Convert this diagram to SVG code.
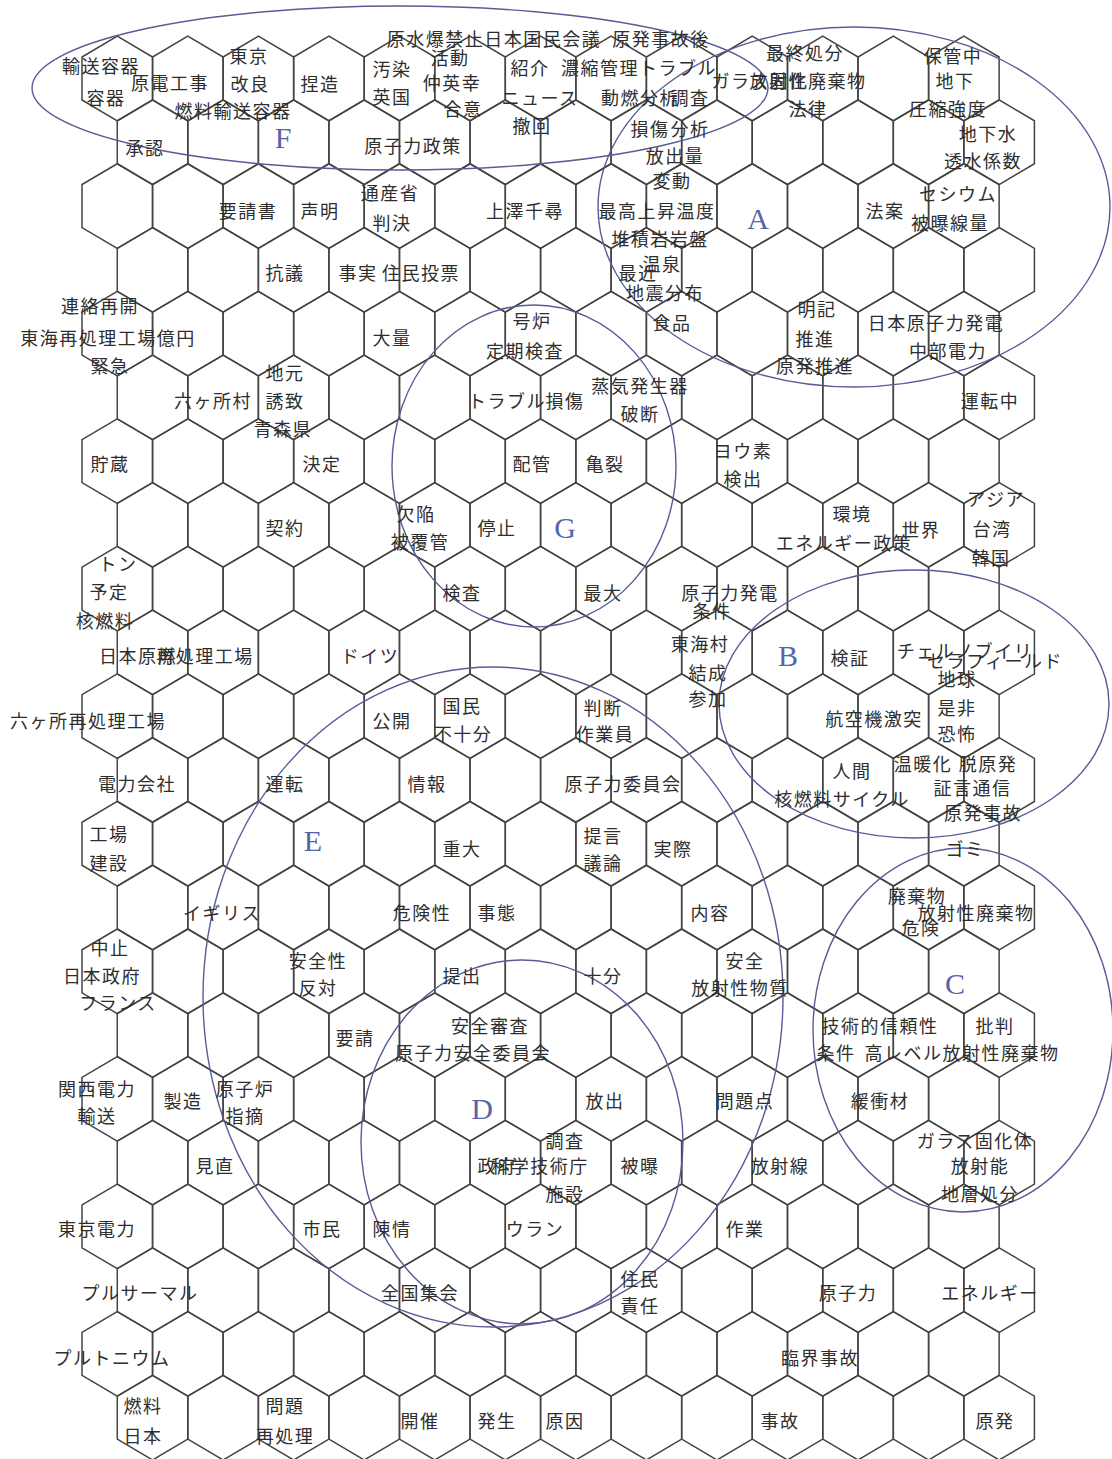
<svg xmlns="http://www.w3.org/2000/svg" xmlns:xlink="http://www.w3.org/1999/xlink" width="1112" height="1459" viewBox="0 0 1112 1459">
<style>
.hx{fill:none;stroke:#444;stroke-width:1.5;stroke-linejoin:miter}
.t{font-family:"Noto Sans CJK JP","Noto Sans",sans-serif;font-size:18px;letter-spacing:1.5px;fill:#2e2e2e;text-anchor:middle;dominant-baseline:central}
.cl{font-family:"Liberation Serif",serif;font-size:30px;fill:#5565a8;text-anchor:middle;dominant-baseline:central}
.el{fill:none;stroke:#5a5a98;stroke-width:1.4}
</style>
<defs>
<path id="h" d="M0,-42.3 L35.27,-21.5 L35.27,21.5 L0,42.3 L-35.27,21.5 L-35.27,-21.5 Z"/>
<g id="row">
<use href="#h" class="hx" x="0"/><use href="#h" class="hx" x="70.55"/><use href="#h" class="hx" x="141.1"/><use href="#h" class="hx" x="211.65"/><use href="#h" class="hx" x="282.2"/><use href="#h" class="hx" x="352.75"/><use href="#h" class="hx" x="423.3"/><use href="#h" class="hx" x="493.85"/><use href="#h" class="hx" x="564.4"/><use href="#h" class="hx" x="634.95"/><use href="#h" class="hx" x="705.5"/><use href="#h" class="hx" x="776.05"/><use href="#h" class="hx" x="846.6"/>
</g>
</defs>
<rect width="1112" height="1459" fill="#fff"/>
<g id="hexgrid">
<use href="#row" x="117.27" y="78.5"/>
<use href="#row" x="152.55" y="142.27"/>
<use href="#row" x="117.27" y="206.04"/>
<use href="#row" x="152.55" y="269.81"/>
<use href="#row" x="117.27" y="333.58"/>
<use href="#row" x="152.55" y="397.35"/>
<use href="#row" x="117.27" y="461.12"/>
<use href="#row" x="152.55" y="524.89"/>
<use href="#row" x="117.27" y="588.66"/>
<use href="#row" x="152.55" y="652.43"/>
<use href="#row" x="117.27" y="716.2"/>
<use href="#row" x="152.55" y="779.97"/>
<use href="#row" x="117.27" y="843.74"/>
<use href="#row" x="152.55" y="907.51"/>
<use href="#row" x="117.27" y="971.28"/>
<use href="#row" x="152.55" y="1035.05"/>
<use href="#row" x="117.27" y="1098.82"/>
<use href="#row" x="152.55" y="1162.59"/>
<use href="#row" x="117.27" y="1226.36"/>
<use href="#row" x="152.55" y="1290.13"/>
<use href="#row" x="117.27" y="1353.9"/>
<use href="#row" x="152.55" y="1417.67"/>
</g>
<g id="clusters">
<ellipse class="el" cx="400" cy="88" rx="368" ry="82"/>
<ellipse class="el" cx="854" cy="207" rx="256" ry="180"/>
<ellipse class="el" cx="534" cy="466" rx="142" ry="161"/>
<ellipse class="el" cx="493" cy="997" rx="290" ry="330"/>
<ellipse class="el" cx="522" cy="1142" rx="161" ry="182"/>
<ellipse class="el" cx="914" cy="704" rx="195" ry="134"/>
<ellipse class="el" cx="963" cy="1030" rx="150" ry="182"/>
<text class="cl" x="283" y="137">F</text>
<text class="cl" x="758" y="218">A</text>
<text class="cl" x="565" y="527">G</text>
<text class="cl" x="788" y="655">B</text>
<text class="cl" x="313" y="840">E</text>
<text class="cl" x="955" y="983">C</text>
<text class="cl" x="482" y="1108">D</text>
</g>
<g id="labels">
<text class="t" x="494" y="38">原水爆禁止日本国民会議</text>
<text class="t" x="661" y="38">原発事故後</text>
<text class="t" x="101" y="65">輸送容器</text>
<text class="t" x="106" y="97">容器</text>
<text class="t" x="170" y="82">原電工事</text>
<text class="t" x="249" y="55">東京</text>
<text class="t" x="250" y="83">改良</text>
<text class="t" x="233" y="110">燃料輸送容器</text>
<text class="t" x="320" y="83">捏造</text>
<text class="t" x="145" y="147">承認</text>
<text class="t" x="392" y="68">汚染</text>
<text class="t" x="392" y="96">英国</text>
<text class="t" x="450" y="57">活動</text>
<text class="t" x="452" y="82">仲英幸</text>
<text class="t" x="463" y="108">合意</text>
<text class="t" x="413" y="145">原子力政策</text>
<text class="t" x="530" y="67">紹介</text>
<text class="t" x="600" y="67">濃縮管理</text>
<text class="t" x="540" y="97">ニュース</text>
<text class="t" x="532" y="125">撤回</text>
<text class="t" x="640" y="97">動燃分析</text>
<text class="t" x="690" y="97">調査</text>
<text class="t" x="678" y="67">トラブル</text>
<text class="t" x="760" y="80">ガラス固化</text>
<text class="t" x="650" y="128">損傷</text>
<text class="t" x="690" y="128">分析</text>
<text class="t" x="675" y="155">放出量</text>
<text class="t" x="672" y="180">変動</text>
<text class="t" x="805" y="52">最終処分</text>
<text class="t" x="808" y="80">放射性廃棄物</text>
<text class="t" x="808" y="108">法律</text>
<text class="t" x="953" y="55">保管中</text>
<text class="t" x="955" y="80">地下</text>
<text class="t" x="948" y="108">圧縮強度</text>
<text class="t" x="988" y="133">地下水</text>
<text class="t" x="983" y="160">透水係数</text>
<text class="t" x="958" y="193">セシウム</text>
<text class="t" x="950" y="222">被曝線量</text>
<text class="t" x="885" y="210">法案</text>
<text class="t" x="248" y="210">要請書</text>
<text class="t" x="320" y="210">声明</text>
<text class="t" x="390" y="192">通産省</text>
<text class="t" x="392" y="222">判決</text>
<text class="t" x="525" y="210">上澤千尋</text>
<text class="t" x="657" y="210">最高上昇温度</text>
<text class="t" x="660" y="238">堆積岩岩盤</text>
<text class="t" x="285" y="272">抗議</text>
<text class="t" x="358" y="272">事実</text>
<text class="t" x="421" y="272">住民投票</text>
<text class="t" x="638" y="272">最近</text>
<text class="t" x="662" y="263">温泉</text>
<text class="t" x="665" y="292">地震分布</text>
<text class="t" x="672" y="322">食品</text>
<text class="t" x="100" y="305">連絡再開</text>
<text class="t" x="108" y="337">東海再処理工場億円</text>
<text class="t" x="110" y="365">緊急</text>
<text class="t" x="392" y="337">大量</text>
<text class="t" x="532" y="320">号炉</text>
<text class="t" x="525" y="350">定期検査</text>
<text class="t" x="817" y="308">明記</text>
<text class="t" x="815" y="338">推進</text>
<text class="t" x="815" y="365">原発推進</text>
<text class="t" x="936" y="322">日本原子力発電</text>
<text class="t" x="948" y="350">中部電力</text>
<text class="t" x="213" y="400">六ヶ所村</text>
<text class="t" x="285" y="372">地元</text>
<text class="t" x="285" y="400">誘致</text>
<text class="t" x="283" y="428">青森県</text>
<text class="t" x="507" y="400">トラブル</text>
<text class="t" x="565" y="400">損傷</text>
<text class="t" x="640" y="385">蒸気発生器</text>
<text class="t" x="640" y="413">破断</text>
<text class="t" x="990" y="400">運転中</text>
<text class="t" x="110" y="463">貯蔵</text>
<text class="t" x="322" y="463">決定</text>
<text class="t" x="532" y="463">配管</text>
<text class="t" x="605" y="463">亀裂</text>
<text class="t" x="743" y="450">ヨウ素</text>
<text class="t" x="743" y="478">検出</text>
<text class="t" x="285" y="527">契約</text>
<text class="t" x="416" y="513">欠陥</text>
<text class="t" x="420" y="541">被覆管</text>
<text class="t" x="497" y="527">停止</text>
<text class="t" x="852" y="513">環境</text>
<text class="t" x="844" y="542">エネルギー政策</text>
<text class="t" x="921" y="529">世界</text>
<text class="t" x="996" y="498">アジア</text>
<text class="t" x="992" y="528">台湾</text>
<text class="t" x="991" y="557">韓国</text>
<text class="t" x="118" y="563">トン</text>
<text class="t" x="109" y="591">予定</text>
<text class="t" x="105" y="620">核燃料</text>
<text class="t" x="462" y="592">検査</text>
<text class="t" x="603" y="592">最大</text>
<text class="t" x="730" y="592">原子力発電</text>
<text class="t" x="712" y="610">条件</text>
<text class="t" x="700" y="643">東海村</text>
<text class="t" x="708" y="672">結成</text>
<text class="t" x="708" y="698">参加</text>
<text class="t" x="138" y="655">日本原燃</text>
<text class="t" x="205" y="655">再処理工場</text>
<text class="t" x="370" y="655">ドイツ</text>
<text class="t" x="850" y="657">検証</text>
<text class="t" x="965" y="650">チェルノブイリ</text>
<text class="t" x="995" y="660">セラフィールド</text>
<text class="t" x="957" y="678">地球</text>
<text class="t" x="88" y="720">六ヶ所再処理工場</text>
<text class="t" x="392" y="720">公開</text>
<text class="t" x="462" y="705">国民</text>
<text class="t" x="463" y="733">不十分</text>
<text class="t" x="603" y="707">判断</text>
<text class="t" x="605" y="733">作業員</text>
<text class="t" x="874" y="718">航空機激突</text>
<text class="t" x="957" y="707">是非</text>
<text class="t" x="957" y="733">恐怖</text>
<text class="t" x="137" y="783">電力会社</text>
<text class="t" x="285" y="783">運転</text>
<text class="t" x="427" y="783">情報</text>
<text class="t" x="623" y="783">原子力委員会</text>
<text class="t" x="852" y="770">人間</text>
<text class="t" x="842" y="798">核燃料サイクル</text>
<text class="t" x="923" y="763">温暖化</text>
<text class="t" x="988" y="763">脱原発</text>
<text class="t" x="953" y="787">証言</text>
<text class="t" x="992" y="787">通信</text>
<text class="t" x="983" y="812">原発事故</text>
<text class="t" x="965" y="848">ゴミ</text>
<text class="t" x="109" y="833">工場</text>
<text class="t" x="109" y="862">建設</text>
<text class="t" x="462" y="848">重大</text>
<text class="t" x="603" y="835">提言</text>
<text class="t" x="603" y="862">議論</text>
<text class="t" x="673" y="848">実際</text>
<text class="t" x="222" y="912">イギリス</text>
<text class="t" x="422" y="912">危険性</text>
<text class="t" x="497" y="912">事態</text>
<text class="t" x="710" y="912">内容</text>
<text class="t" x="917" y="895">廃棄物</text>
<text class="t" x="921" y="927">危険</text>
<text class="t" x="976" y="912">放射性廃棄物</text>
<text class="t" x="110" y="947">中止</text>
<text class="t" x="102" y="975">日本政府</text>
<text class="t" x="118" y="1002">フランス</text>
<text class="t" x="318" y="960">安全性</text>
<text class="t" x="318" y="987">反対</text>
<text class="t" x="462" y="975">提出</text>
<text class="t" x="603" y="975">十分</text>
<text class="t" x="745" y="960">安全</text>
<text class="t" x="740" y="987">放射性物質</text>
<text class="t" x="355" y="1037">要請</text>
<text class="t" x="490" y="1025">安全審査</text>
<text class="t" x="473" y="1052">原子力安全委員会</text>
<text class="t" x="880" y="1025">技術的信頼性</text>
<text class="t" x="995" y="1025">批判</text>
<text class="t" x="836" y="1052">条件</text>
<text class="t" x="962" y="1052">高レベル放射性廃棄物</text>
<text class="t" x="97" y="1088">関西電力</text>
<text class="t" x="97" y="1115">輸送</text>
<text class="t" x="183" y="1100">製造</text>
<text class="t" x="245" y="1088">原子炉</text>
<text class="t" x="245" y="1115">指摘</text>
<text class="t" x="605" y="1100">放出</text>
<text class="t" x="745" y="1100">問題点</text>
<text class="t" x="880" y="1100">緩衝材</text>
<text class="t" x="215" y="1165">見直</text>
<text class="t" x="565" y="1140">調査</text>
<text class="t" x="497" y="1165">政府</text>
<text class="t" x="540" y="1165">科学技術庁</text>
<text class="t" x="565" y="1193">施設</text>
<text class="t" x="640" y="1165">被曝</text>
<text class="t" x="780" y="1165">放射線</text>
<text class="t" x="975" y="1140">ガラス固化体</text>
<text class="t" x="980" y="1165">放射能</text>
<text class="t" x="980" y="1193">地層処分</text>
<text class="t" x="97" y="1228">東京電力</text>
<text class="t" x="322" y="1228">市民</text>
<text class="t" x="392" y="1228">陳情</text>
<text class="t" x="535" y="1228">ウラン</text>
<text class="t" x="745" y="1228">作業</text>
<text class="t" x="140" y="1292">プルサーマル</text>
<text class="t" x="420" y="1292">全国集会</text>
<text class="t" x="640" y="1278">住民</text>
<text class="t" x="640" y="1305">責任</text>
<text class="t" x="848" y="1292">原子力</text>
<text class="t" x="990" y="1292">エネルギー</text>
<text class="t" x="112" y="1357">プルトニウム</text>
<text class="t" x="820" y="1357">臨界事故</text>
<text class="t" x="143" y="1405">燃料</text>
<text class="t" x="143" y="1435">日本</text>
<text class="t" x="285" y="1405">問題</text>
<text class="t" x="285" y="1435">再処理</text>
<text class="t" x="420" y="1420">開催</text>
<text class="t" x="497" y="1420">発生</text>
<text class="t" x="565" y="1420">原因</text>
<text class="t" x="780" y="1420">事故</text>
<text class="t" x="995" y="1420">原発</text>
</g>
</svg>
